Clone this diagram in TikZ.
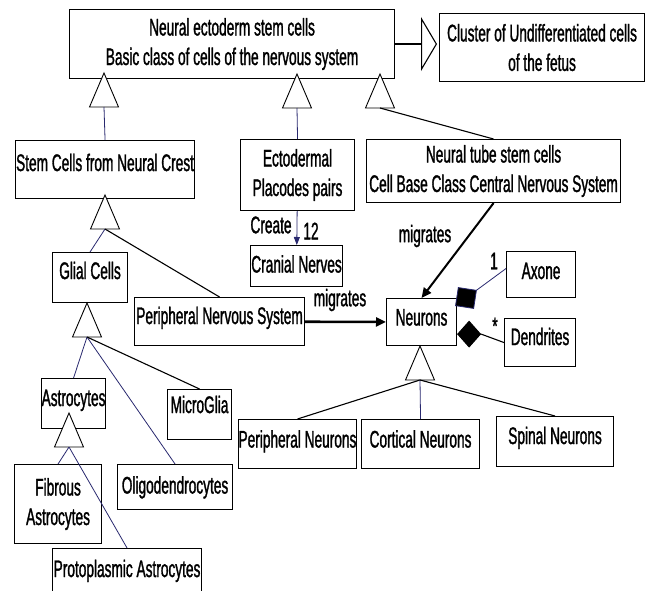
\documentclass[tikz,border=0pt]{standalone}
\usepackage{fontspec}
\setmainfont{Liberation Sans}[FakeStretch=0.57, FakeBold=1.2]
\usetikzlibrary{arrows.meta}
\definecolor{linkblue}{RGB}{40,40,110}
\tikzset{
  box/.style={draw, line width=1.1pt, inner sep=0pt, anchor=north west, align=center},
  lift/.style={text height=17pt, text depth=#1},
  tri/.style={draw, fill=white, line width=0.9pt},
  link/.style={line width=1.1pt},
  bluelink/.style={line width=0.8pt, draw=linkblue},
}
\begin{document}
\begin{tikzpicture}[x=1pt, y=-1pt, font=\fontsize{24}{29.5}\selectfont]
\useasboundingbox (0,0) rectangle (653,591);
\clip (0,0) rectangle (653,591);

% classes
\node[box, minimum width=325pt, minimum height=69pt] (ecto) at (69,9) {Neural ectoderm stem cells\\Basic class of cells of the nervous system};
\node[box, minimum width=205pt, minimum height=68pt] (cluster) at (439,13) {Cluster of Undifferentiated cells\\of the fetus};
\node[box, lift=14pt, minimum width=179pt, minimum height=58pt] (stem) at (15,140) {Stem Cells from Neural Crest};
\node[box, minimum width=114pt, minimum height=71pt] (placodes) at (240,139) {Ectodermal\\Placodes pairs};
\node[box, minimum width=254pt, minimum height=63pt] (tube) at (366,139) {Neural tube stem cells\\Cell Base Class Central Nervous System};
\node[box, lift=4pt, minimum width=92pt, minimum height=41pt] (cranial) at (250,245) {Cranial Nerves};
\node[box, lift=14pt, minimum width=75pt, minimum height=50pt] (glial) at (52,252) {Glial Cells};
\node[box, lift=12pt, minimum width=170pt, minimum height=48pt] (pns) at (134,297) {Peripheral Nervous System};
\node[box, lift=10pt, minimum width=70pt, minimum height=47pt] (neurons) at (386,298) {Neurons};
\node[box, lift=8pt, minimum width=69pt, minimum height=46pt] (axone) at (506,251) {Axone};
\node[box, lift=12pt, minimum width=71pt, minimum height=48pt] (dendrites) at (504,318) {Dendrites};
\node[box, lift=12pt, minimum width=64pt, minimum height=50pt] (astro) at (41,378) {Astrocytes};
\node[box, lift=20pt, minimum width=64pt, minimum height=50pt] (micro) at (167,389) {MicroGlia};
\node[box, lift=4pt, minimum width=115pt, minimum height=45pt] (oligo) at (117,464) {Oligodendrocytes};
\node[box, minimum width=87pt, minimum height=79pt] (fibrous) at (14,464) {Fibrous\\Astrocytes};
\node[box, lift=6pt, minimum width=149pt, minimum height=46pt] (proto) at (52,548) {Protoplasmic Astrocytes};
\node[box, lift=10pt, minimum width=117pt, minimum height=49pt] (periph) at (238,419) {Peripheral Neurons};
\node[box, lift=10pt, minimum width=118pt, minimum height=49pt] (cortical) at (361,419) {Cortical Neurons};
\node[box, lift=12pt, minimum width=117pt, minimum height=50pt] (spinal) at (496,416) {Spinal Neurons};

% generalization triangles
\foreach \n/\x/\y in {g1/104/107, g2/297/108, g3/380/108, g4/105/229, g5/87/337, g6/69/447, g7/420/380}
  \draw[tri] (\x,\y) coordinate (\n) -- ++(-14.5,0) -- ++(14.5,-34) -- ++(14.5,34) -- cycle;

\draw[bluelink] (g1) -- (stem.north);
\draw[bluelink] (g2) -- (placodes.north);
\draw[link] (g3) -- (tube.north);
\draw[bluelink] (g4) -- (glial.north);
\draw[link] (g4) -- (pns.north);
\draw[bluelink] (g5) -- (astro.north);
\draw[bluelink] (g5) -- (oligo.north);
\draw[link] (g5) -- (micro.north);
\draw[bluelink] (g6) -- (fibrous.north);
\draw[bluelink] (g6) -- (proto.north);
\draw[link] (g7) -- (periph.north);
\draw[bluelink] (g7) -- (cortical.north);
\draw[link] (g7) -- (spinal.north);
\draw[link, -{Triangle[open, length=16pt, width=54pt]}, shorten >=2pt] (ecto.east) -- (ecto.east -| cluster.west);

% associations
\draw[bluelink, -{Triangle[length=8pt, width=6pt]}] (placodes) -- (cranial);
\node (create) at (271,225) {Create};
\node (twelve) at (311,231) {12};
\draw[line width=2pt, -{Triangle[length=10pt, width=9pt]}] (tube.south) -- (neurons.north);
\node (migtube) at (425,236) {migrates};
\draw[line width=2.6pt, -{Triangle[length=10pt, width=9pt]}] (pns) -- (neurons);
\node (migpns) at (340,300) {migrates};

% compositions
\draw[bluelink, {Diamond[length=27pt, width=27pt, fill=black]}-] ([shift={(-2pt,-8pt)}]neurons.north east) -- ([yshift=6pt]axone.west);
\draw[link, {Diamond[length=24pt, width=27pt]}-] ([yshift=12pt]neurons.south east) -- ++(24,0) -- (dendrites.west);
\node (mone) at (494,261) {1};
\node (mstar) at (495,326) {*};
\end{tikzpicture}
\end{document}
